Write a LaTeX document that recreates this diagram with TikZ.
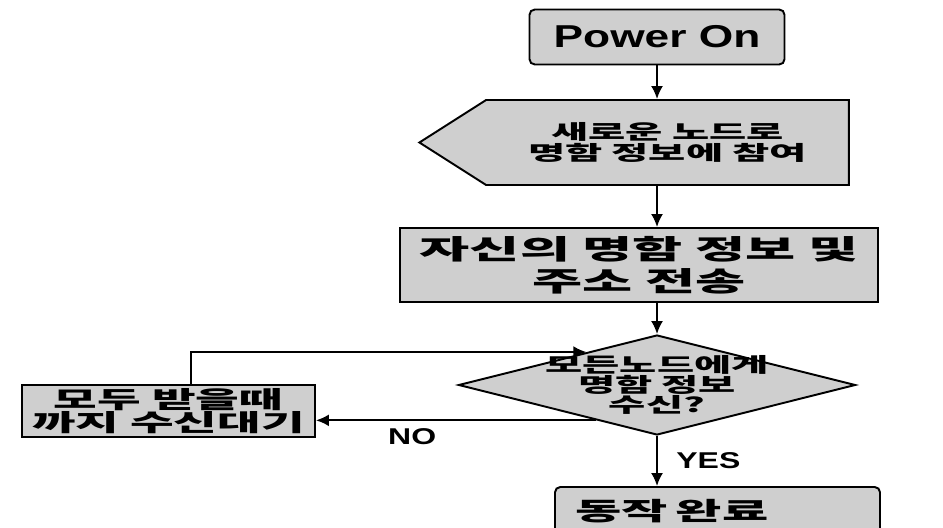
\documentclass[tikz,border=0pt]{standalone}
\usepackage{fontspec}
\newfontfamily\kr{Noto Sans CJK KR}[FakeStretch=2]
\newfontfamily\lat{Liberation Sans}[FakeStretch=1.4]
\usetikzlibrary{positioning,arrows.meta,shapes.geometric,shapes.symbols}

\begin{document}
\begin{tikzpicture}[>={Latex[length=2.6mm,width=2.4mm]}, line width=1.1pt,
  box/.style={draw, fill=gray!38, inner sep=1pt},
  krtext/.style 2 args={font=\kr\bfseries\fontsize{#1}{#2}\selectfont, align=center}]
  \useasboundingbox (0,0) rectangle (18.86,-10.54);
  \node[box, rounded corners=3pt, minimum width=5.1cm, minimum height=1.1cm, font=\lat\bfseries\fontsize{18}{20}\selectfont] (pwr) at (13.14,-0.74) {Power On};
  \node[box, signal, signal to=west, signal pointer angle=65, minimum width=8.59cm, minimum height=1.7cm, krtext={11.5}{12}] (join) at (13.35,-2.85) {새로운 노드로\\명함 정보에 참여};
  \node[box, minimum width=9.56cm, minimum height=1.48cm, krtext={15.5}{18}] (send) at (12.78,-5.3) {자신의 명함 정보 및\\주소 전송};
  \node[box, diamond, minimum width=7.94cm, minimum height=2cm, inner sep=0pt,
        label={[krtext={11.5}{11.5}]center:모든노드에게\\명함 정보\\수신?}] (check) at (13.14,-7.7) {};
  \node[box, minimum width=5.86cm, minimum height=1.04cm, krtext={13.5}{13}] (wait) at (3.37,-8.22) {모두 받을때\\까지 수신대기};
  \node[box, rounded corners=3pt, minimum height=0.96cm, inner xsep=0.4cm, text width=5.7cm, krtext={14.3}{15}, align=left] (done) at (14.35,-10.22) {동작 완료};

  \draw[->] (pwr.south) -- (pwr.south |- join.north);
  \draw[->] (pwr.south |- join.south) -- (pwr.south |- send.north);
  \draw[->] (check.north |- send.south) -- (check.north);
  \draw[->] (check.south) -- (check.south |- done.north)
    node[midway, right=0.25cm, font=\lat\bfseries\fontsize{13}{14}\selectfont] (yes) {YES};
  \draw[->] (check.210) -- (check.210 -| wait.east)
    node[pos=0.656, below=1pt, font=\lat\bfseries\fontsize{13}{14}\selectfont] (no) {NO};
  \draw[->] ([xshift=0.45cm]wait.north) |- (check.155);
\end{tikzpicture}
\end{document}
